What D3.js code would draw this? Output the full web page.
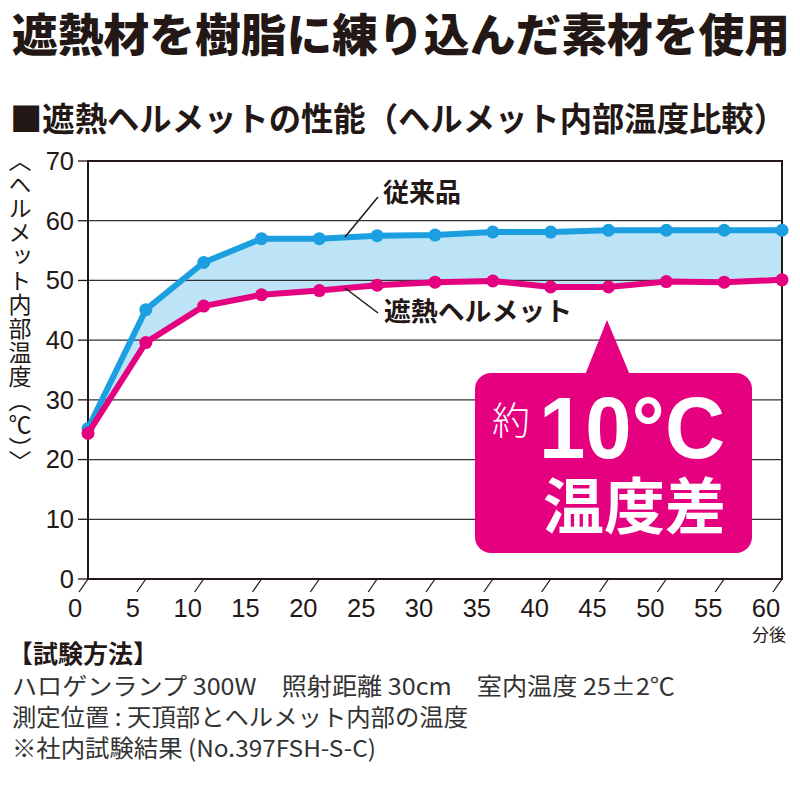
<!DOCTYPE html>
<html lang="ja">
<head>
<meta charset="UTF-8">
<title>遮熱ヘルメットの性能</title>
<style>
  body { margin: 0; background: #fff; }
  svg { display: block; }
</style>
</head>
<body>
<svg id="svg" width="800" height="800"></svg>

<script src="https://d3js.org/d3.v7.min.js"></script>
<script>
  // data
  const minutes = [0, 5, 10, 15, 20, 25, 30, 35, 40, 45, 50, 55, 60]
  const conventional = [25.2, 45.1, 53.0, 57.0, 57.0, 57.5, 57.6, 58.1, 58.1, 58.4, 58.4, 58.4, 58.4]
  const heatShield = [24.4, 39.6, 45.7, 47.6, 48.3, 49.2, 49.7, 49.9, 48.9, 48.9, 49.8, 49.7, 50.1]
  const yTicks = [0, 10, 20, 30, 40, 50, 60, 70]
  const xTicks = [0, 5, 10, 15, 20, 25, 30, 35, 40, 45, 50, 55, 60]
  const notes = [
    'ハロゲンランプ 300W　照射距離 30cm　室内温度 25±2℃',
    '測定位置 : 天頂部とヘルメット内部の温度',
    '※社内試験結果 (No.397FSH-S-C)'
  ]
  // printed widths of the note lines (layout)
  const noteWidths = [663, 456, 364]

  const jp = '"Noto Sans CJK JP", "Noto Sans", sans-serif'
  const latin = '"Liberation Sans", Arial, sans-serif'
  const ink = '#231815'
  const blue = '#1b9fe0'
  const pink = '#e4007f'

  const svg = d3.select('#svg')

  const x = d3.scaleLinear().domain([0, 60]).range([88, 782])
  const y = d3.scaleLinear().domain([0, 70]).range([579, 161])

  // headings
  svg.append('text')
    .attr('x', 12).attr('y', 52)
    .attr('font-family', jp).attr('font-weight', 900)
    .attr('font-size', 45).attr('fill', ink)
    .attr('textLength', 778).attr('lengthAdjust', 'spacingAndGlyphs')
    .text('遮熱材を樹脂に練り込んだ素材を使用')

  svg.append('text')
    .attr('x', 10).attr('y', 131)
    .attr('font-family', jp).attr('font-weight', 700)
    .attr('font-size', 33).attr('fill', ink)
    .attr('textLength', 776).attr('lengthAdjust', 'spacingAndGlyphs')
    .text('■遮熱ヘルメットの性能（ヘルメット内部温度比較）')

  // y axis title, vertical
  svg.append('text')
    .attr('x', 20).attr('y', 149)
    .attr('font-family', jp).attr('font-size', 23).attr('fill', ink)
    .attr('letter-spacing', 1)
    .style('writing-mode', 'vertical-rl')
    .text('〈ヘルメット内部温度（℃）〉')

  const data = minutes.map((m, i) => ({ m, hi: conventional[i], lo: heatShield[i] }))

  // band between the two curves
  svg.append('path')
    .datum(data)
    .attr('fill', '#bde3f7')
    .attr('d', d3.area().x(d => x(d.m)).y0(d => y(d.lo)).y1(d => y(d.hi)))

  // grid
  svg.append('g')
    .selectAll('line')
    .data(yTicks.filter(t => t > 0 && t < 70))
    .join('line')
    .attr('x1', x(0)).attr('x2', x(60))
    .attr('y1', d => y(d)).attr('y2', d => y(d))
    .attr('stroke', '#333').attr('stroke-width', 1.3)

  // frame
  svg.append('path')
    .attr('d', `M${x(0)},${y(0)}V${y(70)}H${x(60)}V${y(0)}Z`)
    .attr('fill', 'none').attr('stroke', ink).attr('stroke-width', 2)

  // y ticks
  const yAxis = svg.append('g')
  yAxis.selectAll('line')
    .data(yTicks)
    .join('line')
    .attr('x1', x(0) - 10).attr('x2', x(0))
    .attr('y1', d => y(d)).attr('y2', d => y(d))
    .attr('stroke', ink).attr('stroke-width', 1.3)
  yAxis.selectAll('text')
    .data(yTicks)
    .join('text')
    .attr('x', 74).attr('y', d => y(d))
    .attr('dy', '0.35em')
    .attr('text-anchor', 'end')
    .attr('font-family', latin).attr('font-size', 25.5).attr('fill', ink)
    .text(d => d)

  // x ticks (slanted)
  const xAxis = svg.append('g')
  xAxis.selectAll('line')
    .data(xTicks)
    .join('line')
    .attr('x1', d => x(d)).attr('y1', y(0))
    .attr('x2', d => x(d) - 9).attr('y2', y(0) + 13)
    .attr('stroke', ink).attr('stroke-width', 1.3)
  xAxis.selectAll('text')
    .data(xTicks)
    .join('text')
    .attr('x', d => x(d) - (d < 10 ? 13 : 16)).attr('y', 617)
    .attr('text-anchor', 'middle')
    .attr('font-family', latin).attr('font-size', 25.5).attr('fill', ink)
    .text(d => d)
  svg.append('text')
    .attr('x', x(60) - 13).attr('y', 641)
    .attr('text-anchor', 'middle')
    .attr('font-family', jp).attr('font-size', 17).attr('fill', ink)
    .text('分後')

  // series
  const series = [
    { key: 'hi', color: blue },
    { key: 'lo', color: pink }
  ]
  series.forEach(s => {
    svg.append('path')
      .datum(data)
      .attr('fill', 'none')
      .attr('stroke', s.color)
      .attr('stroke-width', 6)
      .attr('stroke-linejoin', 'round')
      .attr('d', d3.line().x(d => x(d.m)).y(d => y(d[s.key])))
    svg.append('g')
      .selectAll('circle')
      .data(data)
      .join('circle')
      .attr('cx', d => x(d.m))
      .attr('cy', d => y(d[s.key]))
      .attr('r', 6.5)
      .attr('fill', s.color)
  })

  // series labels with leader lines
  svg.append('line')
    .attr('x1', 378).attr('y1', 197).attr('x2', 345).attr('y2', 237)
    .attr('stroke', ink).attr('stroke-width', 1.5)
  svg.append('text')
    .attr('x', 383).attr('y', 202)
    .attr('font-family', jp).attr('font-weight', 700)
    .attr('font-size', 26).attr('fill', ink)
    .text('従来品')

  svg.append('line')
    .attr('x1', 345).attr('y1', 288).attr('x2', 378).attr('y2', 313)
    .attr('stroke', ink).attr('stroke-width', 1.5)
  svg.append('text')
    .attr('x', 384).attr('y', 321)
    .attr('font-family', jp).attr('font-weight', 700)
    .attr('font-size', 26).attr('fill', ink)
    .attr('textLength', 188).attr('lengthAdjust', 'spacingAndGlyphs')
    .text('遮熱ヘルメット')

  // callout
  const callout = svg.append('g')
  callout.append('path')
    .attr('d', 'M585,375 L607,320 L630,375 Z')
    .attr('fill', pink)
  callout.append('rect')
    .attr('x', 475).attr('y', 373)
    .attr('width', 277).attr('height', 180)
    .attr('rx', 16)
    .attr('fill', pink)
  callout.append('text')
    .attr('x', 492).attr('y', 434)
    .attr('font-family', jp).attr('font-weight', 300)
    .attr('font-size', 38).attr('fill', '#fff')
    .text('約')
  callout.append('text')
    .attr('x', 539).attr('y', 458)
    .attr('font-family', latin).attr('font-weight', 700)
    .attr('font-size', 88).attr('fill', '#fff')
    .attr('textLength', 186).attr('lengthAdjust', 'spacingAndGlyphs')
    .text('10°C')
  callout.append('text')
    .attr('x', 543).attr('y', 529)
    .attr('font-family', jp).attr('font-weight', 700)
    .attr('font-size', 61).attr('fill', '#fff')
    .text('温度差')

  // test method notes
  svg.append('text')
    .attr('x', 8).attr('y', 663)
    .attr('font-family', jp).attr('font-weight', 700)
    .attr('font-size', 25).attr('fill', ink)
    .text('【試験方法】')

  svg.append('g')
    .selectAll('text')
    .data(notes)
    .join('text')
    .attr('x', 12)
    .attr('y', (d, i) => 695 + i * 31)
    .attr('font-family', jp).attr('font-weight', 400)
    .attr('font-size', 23.5).attr('fill', '#333')
    .attr('textLength', (d, i) => noteWidths[i])
    .attr('lengthAdjust', 'spacingAndGlyphs')
    .text(d => d)
</script>
</body>
</html>
